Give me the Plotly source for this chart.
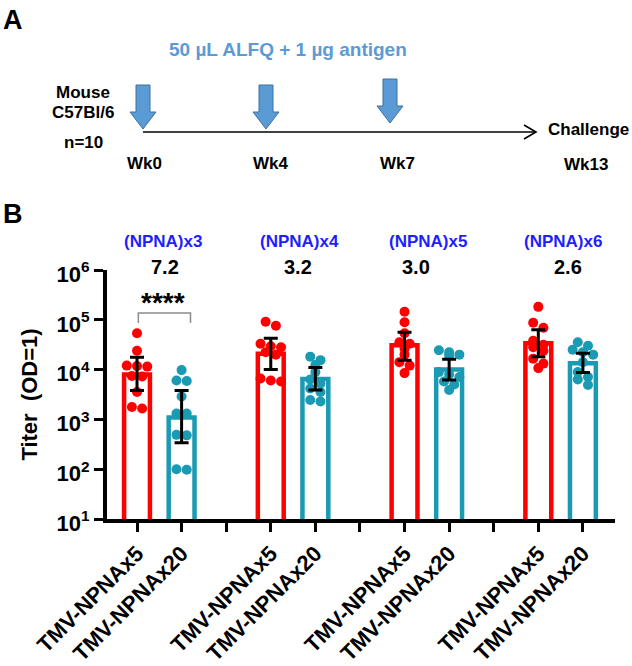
import plotly.graph_objects as go

# ---------------- data ----------------
groups = ["(NPNA)x3", "(NPNA)x4", "(NPNA)x5", "(NPNA)x6"]
fold_change = ["7.2", "3.2", "3.0", "2.6"]
series_names = ["TMV-NPNAx5", "TMV-NPNAx20"]

# individual mouse titers, log10
x5_log10 = [
    [4.73, 4.38, 4.08, 4.07, 4.06, 3.87, 3.86, 3.55, 3.25, 3.22],
    [4.96, 4.88, 4.52, 4.47, 4.45, 4.35, 4.30, 3.82, 3.78, 3.76],
    [5.16, 4.95, 4.73, 4.55, 4.52, 4.42, 4.30, 4.15, 4.08, 3.93],
    [5.26, 4.94, 4.84, 4.58, 4.50, 4.45, 4.38, 4.22, 4.12, 4.03],
]
x20_log10 = [
    [3.99, 3.78, 3.77, 3.46, 3.12, 3.12, 2.69, 2.68, 2.00, 1.99],
    [4.26, 4.19, 4.09, 3.95, 3.80, 3.72, 3.62, 3.55, 3.39, 3.36],
    [4.39, 4.35, 4.30, 4.28, 3.95, 3.90, 3.85, 3.76, 3.70, 3.59],
    [4.55, 4.48, 4.40, 4.35, 4.30, 4.15, 3.95, 3.85, 3.80, 3.69],
]
# geometric means and 95% CI (log10)
x5_mean = [3.90, 4.32, 4.49, 4.53]
x5_lo = [3.58, 4.00, 4.19, 4.26]
x5_hi = [4.25, 4.63, 4.75, 4.80]
x20_mean = [3.04, 3.81, 4.00, 4.13]
x20_lo = [2.53, 3.59, 3.79, 3.94]
x20_hi = [3.58, 4.04, 4.21, 4.33]

y_tick_exp = [1, 2, 3, 4, 5, 6]

# ---------------- style ----------------
RED = "#FF0000"
TEAL = "#1A9AB3"
ARROW_BLUE = "#5B9BD5"
LABEL_BLUE = "#1E1EFF"
FONT = "Liberation Sans, Arial, sans-serif"

W, H = 632, 666
PL, PR, PT, PB = 107, 615, 270, 519


def px(x):
    return (x - PL) / (PR - PL)


def py(y):
    return (PB - y) / (PB - PT)


def swarm_offsets(vals, step=0.23, tol=0.12, maxrow=3):
    order = sorted(range(len(vals)), key=lambda i: -vals[i])
    rows = []
    for i in order:
        if rows and vals[rows[-1][0]] - vals[i] < tol and len(rows[-1]) < maxrow:
            rows[-1].append(i)
        else:
            rows.append([i])
    off = [0.0] * len(vals)
    for r in rows:
        n = len(r)
        for k, i in enumerate(r):
            off[i] = (k - (n - 1) / 2) * step
    return off


fig = go.Figure()

series = [
    (x5_log10, x5_mean, x5_lo, x5_hi, RED, 0),
    (x20_log10, x20_mean, x20_lo, x20_hi, TEAL, 1),
]

# bars
for pts, mean, lo, hi, col, shift in series:
    xs = [3 * g + shift for g in range(len(groups))]
    fig.add_trace(go.Bar(
        x=xs, y=[10 ** m for m in mean], width=0.58,
        marker=dict(color="rgba(0,0,0,0)", line=dict(color=col, width=4.5)),
        showlegend=False, hoverinfo="skip"))

# points
for pts, mean, lo, hi, col, shift in series:
    xs, ys = [], []
    for g, vals in enumerate(pts):
        offs = swarm_offsets(vals)
        for v, o in zip(vals, offs):
            xs.append(3 * g + shift + o)
            ys.append(10 ** v)
    fig.add_trace(go.Scatter(
        x=xs, y=ys, mode="markers",
        marker=dict(color=col, size=10, line=dict(width=0)),
        showlegend=False, hoverinfo="skip"))

# error bars
for pts, mean, lo, hi, col, shift in series:
    xs = [3 * g + shift for g in range(len(groups))]
    ym = [10 ** m for m in mean]
    fig.add_trace(go.Scatter(
        x=xs, y=ym, mode="markers",
        marker=dict(color="rgba(0,0,0,0)", size=1),
        error_y=dict(type="data", symmetric=False,
                     array=[10 ** h - 10 ** m for h, m in zip(hi, mean)],
                     arrayminus=[10 ** m - 10 ** l for l, m in zip(lo, mean)],
                     color="black", thickness=3, width=7),
        showlegend=False, hoverinfo="skip"))

tickvals = list(range(3 * len(groups) - 1))
ticktext = []
for t in tickvals:
    r = t % 3
    ticktext.append(series_names[r] if r < 2 else "")

fig.update_layout(
    width=W, height=H,
    margin=dict(l=PL, r=W - PR, t=PT, b=H - PB, pad=0, autoexpand=False),
    paper_bgcolor="white", plot_bgcolor="white",
    font=dict(family=FONT, color="black"),
    bargap=0,
    xaxis=dict(range=[-0.673, 10.72], tickmode="array", tickvals=tickvals,
               ticktext=ticktext, tickangle=-45,
               tickfont=dict(family=FONT, size=22, weight="bold", color="black"),
               showline=True, linecolor="black", linewidth=4,
               ticks="outside", ticklen=9, tickwidth=3, tickcolor="black",
               showgrid=False, zeroline=False, automargin=False),
    yaxis=dict(type="log", range=[1, 6], tickmode="array",
               tickvals=[10 ** e for e in y_tick_exp],
               ticktext=[f"10<sup>{e}</sup>" for e in y_tick_exp],
               tickfont=dict(family=FONT, size=22, weight="bold", color="black"),
               ticklabelshift=4,
               showline=True, linecolor="black", linewidth=4,
               ticks="outside", ticklen=9, tickwidth=3, tickcolor="black",
               showgrid=False, zeroline=False, automargin=False,
               title=dict(text="<b>Titer  (OD=1)</b>", standoff=14,
                          font=dict(family=FONT, size=22, color="black"))),
)

ann = []


def add_text(text, x, y, size, color="black", xref="paper", xanchor="center"):
    ann.append(dict(text=text, x=x, y=y, xref=xref, yref="paper",
                    showarrow=False, xanchor=xanchor, yanchor="middle",
                    font=dict(family=FONT, size=size, color=color)))


# Panel A
add_text("<b>A</b>", px(13), py(20), 27)
add_text("<b>50 µL ALFQ + 1 µg antigen</b>", px(288), py(50), 19, ARROW_BLUE)
add_text("<b>Mouse</b>", px(83), py(92), 17)
add_text("<b>C57Bl/6</b>", px(83), py(113), 17)
add_text("<b>n=10</b>", px(83), py(142), 17)
add_text("<b>Wk0</b>", px(144), py(163), 17)
add_text("<b>Wk4</b>", px(271), py(163), 17)
add_text("<b>Wk7</b>", px(397), py(163), 17)
add_text("<b>Challenge</b>", px(631), py(129), 17, xanchor="right")
add_text("<b>Wk13</b>", px(586), py(164), 17)

# Panel B
add_text("<b>B</b>", px(13), py(214), 27)
label_x = [0.58, 3.65, 6.52, 9.55]
fold_x = [0.63, 3.61, 6.26, 9.66]
for g in range(len(groups)):
    add_text(f"<b>{groups[g]}</b>", label_x[g], py(242), 17, LABEL_BLUE, xref="x")
    add_text(f"<b>{fold_change[g]}</b>", fold_x[g], py(267), 20, "black", xref="x")
add_text("<b>****</b>", 0.58, py(302), 28, "black", xref="x")
fig.update_layout(annotations=ann)

shapes = []
# timeline
shapes.append(dict(type="line", xref="paper", yref="paper",
                   x0=px(143), y0=py(132), x1=px(536), y1=py(132),
                   line=dict(color="black", width=1.6)))
shapes.append(dict(type="path", xref="paper", yref="paper",
                   path=f"M {px(524)},{py(125)} L {px(536)},{py(132)} L {px(524)},{py(139)}",
                   line=dict(color="black", width=1.6)))
# injection arrows
for cx, top, tip in [(143, 85, 129), (266, 85, 129), (390, 79, 123)]:
    hs, hh, hl = 7, 13, 17
    pts = [(cx - hs, top), (cx + hs, top), (cx + hs, tip - hl), (cx + hh, tip - hl),
           (cx, tip), (cx - hh, tip - hl), (cx - hs, tip - hl)]
    path = "M " + " L ".join(f"{px(a)},{py(b)}" for a, b in pts) + " Z"
    shapes.append(dict(type="path", xref="paper", yref="paper", path=path,
                       fillcolor=ARROW_BLUE, line=dict(color="#41719C", width=1)))
# significance bracket
shapes.append(dict(type="path", xref="x", yref="paper",
                   path=f"M 0.03,{py(323)} L 0.03,{py(313)} L 1.2,{py(313)} L 1.2,{py(323)}",
                   line=dict(color="#8C8C8C", width=1.5)))
fig.update_layout(shapes=shapes)

fig.write_html("out.html",
               config={"displayModeBar": False, "staticPlot": True},
               post_script="document.body.style.margin='0';document.body.style.overflow='hidden';")
